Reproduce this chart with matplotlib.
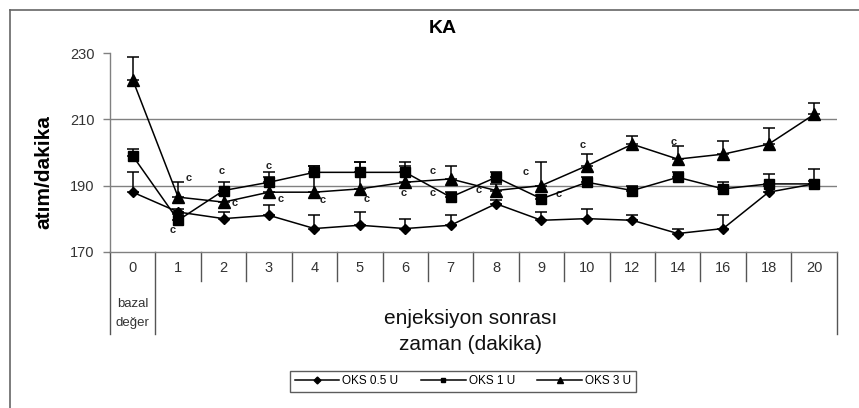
import matplotlib.pyplot as plt
from matplotlib.lines import Line2D

plt.rcParams['font.family'] = ['Liberation Sans', 'DejaVu Sans']

# zaman (dakika) kategorileri
zaman = ['0', '1', '2', '3', '4', '5', '6', '7', '8', '9', '10', '12', '14', '16', '18', '20']

# ortalama degerler (atim/dakika)
oks05 = [188, 182, 180, 181, 177, 178, 177, 178, 184.5, 179.5, 180, 179.5, 175.5, 177, 188, 190.5]
oks1 = [199, 179.5, 188.5, 191, 194, 194, 194, 186.5, 192.5, 186, 191, 188.5, 192.5, 189, 190.5, 190.5]
oks3 = [222, 186.5, 185, 188, 188, 189, 191, 192, 188.5, 190, 196, 202.5, 198, 199.5, 202.5, 211.5]

# standart hata (sadece ust)
oks05_err = [6, 1, 2, 3, 4, 4, 3, 3, 1, 2.5, 3, 1.5, 1.5, 4, 2, 1]
oks1_err = [2, 2, 2.5, 3, 2, 3, 3, 1.5, 1.5, 1, 1.5, 1.5, 1.5, 2, 3, 4.5]
oks3_err = [7, 4.5, 2, 4.5, 8, 8, 5, 4, 2, 7, 3.5, 2.5, 4, 4, 5, 3.5]

# anlamlilik isaretleri "c" (x, y)
c_isaret = [(1.24, 192.4), (0.89, 176.6), (1.97, 194.4), (2.25, 184.8), (3.0, 196),
            (3.25, 185.9), (4.19, 185.6), (5.16, 185.9), (5.96, 187.8), (6.6, 194.3),
            (6.6, 187.9), (7.61, 188.7), (8.65, 194.2), (9.37, 187.4), (9.9, 202.3),
            (11.9, 203.3)]

W, H = 859, 408
fig = plt.figure(figsize=(W / 100, H / 100), dpi=100)

ax_l, ax_r, ax_t, ax_b = 110, 836.7, 53.3, 251.7
ax = fig.add_axes([ax_l / W, 1 - ax_b / H, (ax_r - ax_l) / W, (ax_b - ax_t) / H])
x = list(range(len(zaman)))

gray = '#808080'
for yv in [190, 210]:
    ax.axhline(yv, color=gray, lw=1, zorder=1)

for vals, err, m, ms in [(oks05, oks05_err, 'D', 5.5), (oks1, oks1_err, 's', 6.5), (oks3, oks3_err, '^', 8)]:
    ax.errorbar(x, vals, yerr=[[0] * len(err), err], color='black', lw=1.1, marker=m, ms=ms,
                capsize=4.5, capthick=1.1, elinewidth=1.1, zorder=3)

for cx, cy in c_isaret:
    ax.text(cx, cy, 'c', fontsize=8, fontweight='bold', ha='center', va='center', color='#222222')

ax.set_xlim(-0.5, len(zaman) - 0.5)
ax.set_ylim(170, 230)
ax.set_yticks([170, 190, 210, 230])
ax.tick_params(axis='y', length=5, width=1, color=gray, pad=6, labelsize=10.5, labelcolor='#333333')
ax.set_xticks(x)
ax.set_xticklabels(zaman)
ax.tick_params(axis='x', length=0, pad=6.7, labelsize=10.5, labelcolor='#333333')
for s in ['top', 'right']:
    ax.spines[s].set_visible(False)
for s in ['left', 'bottom']:
    ax.spines[s].set_color(gray)
    ax.spines[s].set_linewidth(1)

# tablo ayiricilar
axh = ax_b - ax_t
kisa = -(280.7 - ax_b) / axh
uzun = -(334 - ax_b) / axh
for k in range(len(zaman) + 1):
    yb = uzun if k in (0, 1, len(zaman)) else kisa
    ax.plot([k - 0.5, k - 0.5], [0, yb], color='#555555', lw=1,
            transform=ax.get_xaxis_transform(), clip_on=False)
ax.text(0, -(304 - ax_b) / axh, 'bazal', transform=ax.get_xaxis_transform(),
        ha='center', va='center', fontsize=9.5, color='#333333')
ax.text(0, -(322.7 - ax_b) / axh, 'değer', transform=ax.get_xaxis_transform(),
        ha='center', va='center', fontsize=9.5, color='#333333')

fig.text(443 / W, 1 - 28.5 / H, 'KA', fontsize=14, fontweight='bold', ha='center', va='center')
fig.text(44 / W, 1 - 172.5 / H, 'atım/dakika', fontsize=15, fontweight='bold',
         rotation=90, ha='center', va='center')
fig.text(471 / W, 1 - 318 / H, 'enjeksiyon sonrası', fontsize=15, ha='center', va='center', color='#111111')
fig.text(470 / W, 1 - 345 / H, 'zaman (dakika)', fontsize=15, ha='center', va='center', color='#111111')

handles = [Line2D([], [], color='black', lw=1.1, marker='D', ms=3.5),
           Line2D([], [], color='black', lw=1.1, marker='s', ms=3.5),
           Line2D([], [], color='black', lw=1.1, marker='^', ms=4.5)]
leg = fig.legend(handles, ['OKS 0.5 U', 'OKS 1 U', 'OKS 3 U'], loc='center',
                 bbox_to_anchor=(463 / W, 1 - 381.5 / H), ncol=3, fontsize=8.5,
                 handlelength=3.8, handletextpad=0.25, columnspacing=1.9,
                 fancybox=False, edgecolor='#333333', borderpad=0.35, borderaxespad=0)
leg.get_frame().set_linewidth(1)

# dis cerceve
fig.add_artist(Line2D([10 / W, 1], [1 - 10 / H, 1 - 10 / H], color='#666666', lw=1.2))
fig.add_artist(Line2D([10 / W, 10 / W], [1 - 10 / H, 0], color='#666666', lw=1.2))

fig.savefig('out.png', dpi=100)
